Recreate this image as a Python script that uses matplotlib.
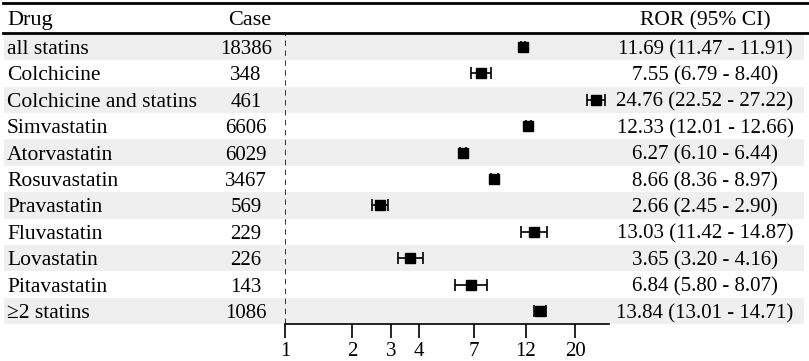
import numpy as np
import matplotlib.pyplot as plt
from matplotlib.ticker import FixedLocator, NullLocator

drugs = ["all statins", "Colchicine", "Colchicine and statins", "Simvastatin",
         "Atorvastatin", "Rosuvastatin", "Pravastatin", "Fluvastatin",
         "Lovastatin", "Pitavastatin", "\u22652 statins"]
cases = [18386, 348, 461, 6606, 6029, 3467, 569, 229, 226, 143, 1086]
ror = [11.69, 7.55, 24.76, 12.33, 6.27, 8.66, 2.66, 13.03, 3.65, 6.84, 13.84]
lo = [11.47, 6.79, 22.52, 12.01, 6.10, 8.36, 2.45, 11.42, 3.20, 5.80, 13.01]
hi = [11.91, 8.40, 27.22, 12.66, 6.44, 8.97, 2.90, 14.87, 4.16, 8.07, 14.71]
xticks = [1, 2, 3, 4, 7, 12, 20]

plt.rcParams['font.family'] = ['Liberation Serif', 'DejaVu Serif']
fs = 15

W, H = 809, 361
fig = plt.figure(figsize=(W / 100, H / 100), dpi=100)

# background table axes in pixel units
bg = fig.add_axes([0, 0, 1, 1])
bg.set_xlim(0, W)
bg.set_ylim(H, 0)
bg.axis('off')

row_h = 26.4
top = 33.8
for i, d in enumerate(drugs):
    y0 = top + i * row_h
    yc = y0 + row_h / 2
    if i % 2 == 0:
        bg.fill_between([4, 804], y0, y0 + row_h, color='#efefef', lw=0, zorder=0)
    bg.text(7, yc, d, fontsize=15.5, ha='left', va='center_baseline')
    bg.text(246, yc, str(cases[i]), fontsize=fs, ha='center', va='center_baseline')
    bg.text(705, yc, f"{ror[i]:.2f} ({lo[i]:.2f} - {hi[i]:.2f})",
            fontsize=fs, ha='center', va='center_baseline')

# header
bg.text(7, 18, "Drug", fontsize=16, ha='left', va='center_baseline')
bg.text(250, 18, "Case", fontsize=16, ha='center', va='center_baseline')
bg.text(705, 18, "ROR (95% CI)", fontsize=15.5, ha='center', va='center_baseline')
bg.plot([3, W], [2.5, 2.5], color='black', lw=2)
bg.plot([3, W], [32.5, 32.5], color='black', lw=2)

# forest plot axes
n = len(drugs)
x0, x1 = 285, 609
ybot = top + n * row_h
ax = fig.add_axes([x0 / W, (H - ybot) / H, (x1 - x0) / W, (ybot - top) / H])
ax.patch.set_alpha(0)
ax.set_xscale('log')
ax.set_xlim(1, 28.3)
ax.set_ylim(n - 0.5, -0.5)
yy = np.arange(n)
ror_a = np.array(ror)
err = [ror_a - np.array(lo), np.array(hi) - ror_a]
ax.errorbar(ror_a, yy, xerr=err, fmt='s', color='black', ms=6.5,
            capsize=4, elinewidth=1.2, capthick=1.2)
ax.axvline(1, color='#222222', lw=1.3, ls=(0, (3, 2.5)), ymax=0.995)
for s in ['top', 'right', 'left']:
    ax.spines[s].set_visible(False)
ax.spines['bottom'].set_linewidth(1.2)
ax.xaxis.set_major_locator(FixedLocator(xticks))
ax.xaxis.set_minor_locator(NullLocator())
ax.set_xticklabels([str(t) for t in xticks], fontsize=fs)
ax.tick_params(axis='x', length=10, width=1.2, pad=3)
ax.set_yticks([])

fig.savefig('out.png', dpi=100)
